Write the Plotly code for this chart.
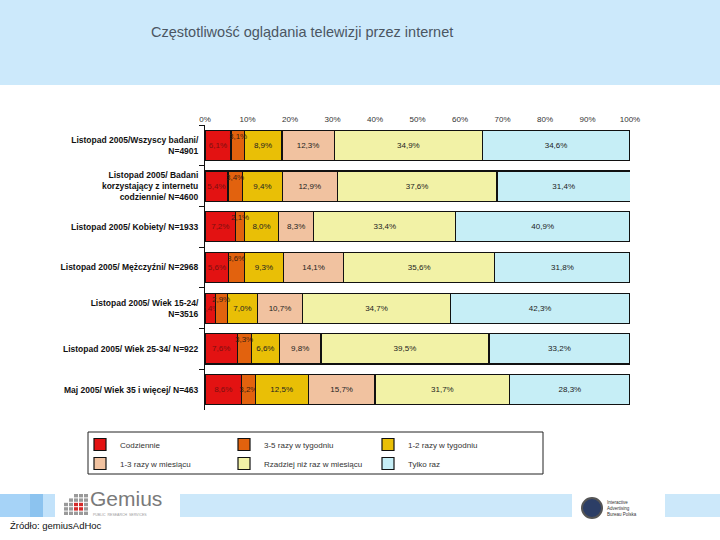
import plotly.graph_objects as go

categories = [
    "Listopad 2005/Wszyscy badani/<br>N=4901",
    "Listopad 2005/ Badani<br>korzystający z internetu<br>codziennie/ N=4600",
    "Listopad 2005/ Kobiety/ N=1933",
    "Listopad 2005/ Mężczyźni/ N=2968",
    "Listopad 2005/ Wiek 15-24/<br>N=3516",
    "Listopad 2005/ Wiek 25-34/ N=922",
    "Maj 2005/ Wiek 35 i więcej/ N=463",
]
series_names = [
    "Codziennie",
    "3-5 razy w tygodniu",
    "1-2 razy w tygodniu",
    "1-3 razy w miesiącu",
    "Rzadziej niż raz w miesiącu",
    "Tylko raz",
]
codziennie = [6.1, 5.4, 7.2, 5.6, 2.4, 7.6, 8.6]
razy_3_5_tydz = [3.1, 3.4, 2.1, 3.6, 2.9, 3.3, 3.2]
razy_1_2_tydz = [8.9, 9.4, 8.0, 9.3, 7.0, 6.6, 12.5]
razy_1_3_mies = [12.3, 12.9, 8.3, 14.1, 10.7, 9.8, 15.7]
rzadziej = [34.9, 37.6, 33.4, 35.6, 34.7, 39.5, 31.7]
tylko_raz = [34.6, 31.4, 40.9, 31.8, 42.3, 33.2, 28.3]
tick_vals = [0, 10, 20, 30, 40, 50, 60, 70, 80, 90, 100]
tick_text = ["0%", "10%", "20%", "30%", "40%", "50%", "60%", "70%", "80%", "90%", "100%"]

series = [codziennie, razy_3_5_tydz, razy_1_2_tydz, razy_1_3_mies, rzadziej, tylko_raz]
colors = ["#e31212", "#e2620e", "#e9bf06", "#f1c2a0", "#f2f2a6", "#c6eef6"]
text_colors = ["#7a1010", "#3a2010", "#222222", "#222222", "#222222", "#222222"]
legend_ids = ["legend", "legend2", "legend3", "legend", "legend2", "legend3"]

def fmt(v):
    return ("%.1f%%" % v).replace(".", ",")

fig = go.Figure()
for i, (name, vals, col) in enumerate(zip(series_names, series, colors)):
    # orange segment labels are drawn above the bar when they do not fit
    texts = [fmt(v) if (i != 1 or r == 6) else "" for r, v in enumerate(vals)]
    fig.add_trace(go.Bar(
        name=name, y=categories, x=vals, orientation="h",
        marker=dict(color=col, line=dict(color="#111111", width=1.2)),
        text=texts, textposition="inside", insidetextanchor="middle", textangle=0,
        textfont=dict(size=8, color=text_colors[i], family="Liberation Sans"),
        legend=legend_ids[i], width=0.74,
    ))

# labels of the thin orange segments, placed slightly above the bar centre
for r, cat in enumerate(categories):
    if r == 6:
        continue
    xmid = codziennie[r] + razy_3_5_tydz[r] / 2
    fig.add_annotation(x=xmid, y=cat, text=fmt(razy_3_5_tydz[r]), showarrow=False,
                       yshift=9, font=dict(size=8, color="#3a2010", family="Liberation Sans"))

W, H = 720, 540
L, R, T, B = 205, 630, 125, 410

def px(x):
    return (x - L) / (R - L)

def py(y):
    return (B - y) / (B - T)

shapes = []
# header band
shapes.append(dict(type="rect", xref="paper", yref="paper", x0=px(0), x1=px(720), y0=py(85), y1=py(0),
                   fillcolor="#cce9fb", line=dict(width=0), layer="below"))
# bottom band pieces
for x0, x1, c in [(0, 30, "#a6d3f7"), (30, 43, "#8cc3ef"), (43, 55, "#c2e2fa"),
                  (180, 572, "#cce8fa"), (665, 720, "#cce8fa")]:
    shapes.append(dict(type="rect", xref="paper", yref="paper", x0=px(x0), x1=px(x1), y0=py(517), y1=py(494),
                       fillcolor=c, line=dict(width=0), layer="below"))
# gemius grid icon
for gx in range(5):
    for gy in range(5):
        if gx + gy < 2:
            continue
        c = "#d42a2a" if (gx in (2, 3) and gy in (2, 3)) else "#9a9a9a"
        x0 = 64 + gx * 5
        y0 = 494 + gy * 4.4
        shapes.append(dict(type="rect", xref="paper", yref="paper", x0=px(x0), x1=px(x0 + 4), y0=py(y0 + 3.4), y1=py(y0),
                           fillcolor=c, line=dict(width=0)))
# IAB logo circle
shapes.append(dict(type="circle", xref="paper", yref="paper", x0=px(582), x1=px(602), y0=py(518), y1=py(498),
                   fillcolor="#2c3e66", line=dict(color="#555555", width=2)))
# legend frame
shapes.append(dict(type="rect", xref="paper", yref="paper", x0=px(88), x1=px(543), y0=py(474), y1=py(432),
                   fillcolor="rgba(0,0,0,0)", line=dict(color="#222222", width=1)))

fig.update_layout(shapes=shapes)

fig.add_annotation(xref="paper", yref="paper", x=px(149), y=py(32), xanchor="left", yanchor="middle",
                   text="Częstotliwość oglądania telewizji przez internet", showarrow=False,
                   font=dict(size=14.5, color="#4b5662", family="Liberation Sans"))
fig.add_annotation(xref="paper", yref="paper", x=px(89), y=py(511), xanchor="left", yanchor="bottom",
                   text="Gemius", showarrow=False, borderpad=0,
                   font=dict(size=21, color="#7a7a7a", family="Liberation Sans"))
fig.add_annotation(xref="paper", yref="paper", x=px(92), y=py(512), xanchor="left", yanchor="top",
                   text="PUBLIC  RESEARCH  SERVICES", showarrow=False, borderpad=0,
                   font=dict(size=3.5, color="#9a9a9a", family="Liberation Sans"))
fig.add_annotation(xref="paper", yref="paper", x=px(605), y=py(508), xanchor="left", yanchor="middle",
                   text="Interactive<br>Advertising<br>Bureau Polska", showarrow=False, align="left",
                   font=dict(size=4.5, color="#333333", family="Liberation Sans"))
fig.add_annotation(xref="paper", yref="paper", x=px(9), y=py(525), xanchor="left", yanchor="middle",
                   text="Źródło: gemiusAdHoc", showarrow=False, borderpad=0,
                   font=dict(size=9.5, color="#111111", family="Liberation Sans"))

leg_common = dict(orientation="v", font=dict(size=8, color="#333333", family="Liberation Sans"),
                  bgcolor="rgba(0,0,0,0)", yanchor="top", xanchor="left", tracegroupgap=0,
                  itemwidth=30, traceorder="normal")
fig.update_layout(
    width=W, height=H,
    margin=dict(l=L, r=W - R, t=T, b=H - B, pad=0),
    paper_bgcolor="white", plot_bgcolor="white",
    barmode="stack",
    bargap=0.26,
    showlegend=True,
    uniformtext=dict(minsize=8, mode="show"),
    legend=dict(x=px(80), y=py(430), **leg_common),
    legend2=dict(x=px(224), y=py(430), **leg_common),
    legend3=dict(x=px(368), y=py(430), **leg_common),
    xaxis=dict(side="top", range=[0, 100], tickvals=tick_vals, ticktext=tick_text,
               showgrid=False, zeroline=False, showline=False, ticks="",
               tickfont=dict(size=8, color="#333333", family="Liberation Sans"), fixedrange=True),
    yaxis=dict(autorange="reversed", showgrid=False, zeroline=False, showline=True,
               linecolor="#111111", linewidth=1, ticks="outside", ticklen=5, tickcolor="#111111",
               tickson="boundaries", ticklabelstandoff=4,
               tickfont=dict(size=8.5, color="#111111", family="Liberation Sans", weight="bold")),
    font=dict(family="Liberation Sans"),
)

fig.write_html("out.html", config={"displayModeBar": False},
               post_script="document.body.style.margin='0px';")
